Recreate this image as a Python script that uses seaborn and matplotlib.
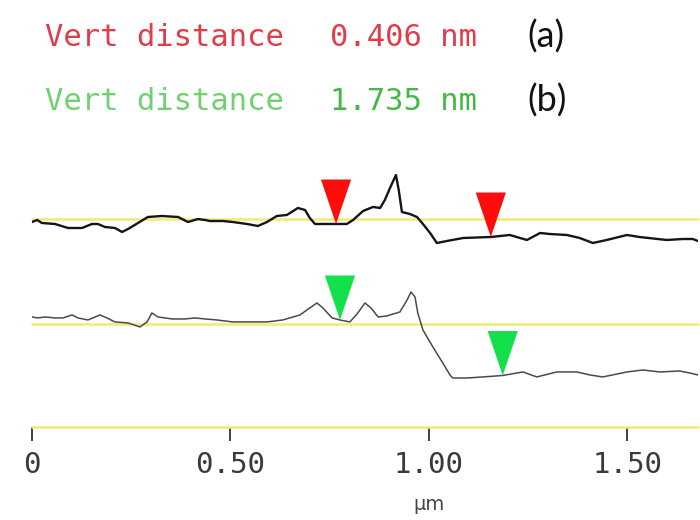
import numpy as np
import pandas as pd
import matplotlib
matplotlib.use("Agg")
import matplotlib.pyplot as plt
from matplotlib.path import Path
from matplotlib.transforms import blended_transform_factory
import seaborn as sns

# Section profile (a): position along the scan line (µm) and height (nm)
pos_a = [0.000, 0.013, 0.025, 0.058, 0.091, 0.126, 0.151, 0.166, 0.184, 0.209,
         0.227, 0.242, 0.267, 0.292, 0.327, 0.368, 0.393, 0.418, 0.436, 0.448,
         0.481, 0.506, 0.542, 0.569, 0.592, 0.617, 0.642, 0.670, 0.688, 0.700,
         0.713, 0.743, 0.766, 0.793, 0.809, 0.834, 0.859, 0.877, 0.889, 0.902,
         0.917, 0.924, 0.932, 0.952, 0.970, 0.985, 1.003, 1.020, 1.045, 1.086,
         1.156, 1.204, 1.247, 1.280, 1.305, 1.348, 1.380, 1.413, 1.448, 1.499,
         1.531, 1.599, 1.640, 1.665, 1.678]
height_a = [-0.094, -0.031, -0.125, -0.156, -0.281, -0.281, -0.156, -0.156, -0.250, -0.281,
            -0.406, -0.313, -0.125, 0.063, 0.094, 0.063, -0.094, 0.000, -0.031, -0.063,
            -0.063, -0.094, -0.156, -0.219, -0.094, 0.094, 0.125, 0.344, 0.281, 0.031,
            -0.156, -0.156, -0.156, -0.156, -0.031, 0.250, 0.375, 0.344, 0.594, 0.969,
            1.375, 0.906, 0.219, 0.156, 0.063, -0.156, -0.438, -0.750, -0.688, -0.594,
            -0.562, -0.500, -0.656, -0.438, -0.469, -0.500, -0.594, -0.750, -0.656, -0.500,
            -0.563, -0.656, -0.625, -0.625, -0.688]

# Section profile (b)
pos_b = [0.000, 0.015, 0.033, 0.058, 0.078, 0.101, 0.116, 0.141, 0.171, 0.189,
         0.209, 0.242, 0.272, 0.290, 0.302, 0.317, 0.353, 0.385, 0.411, 0.436,
         0.466, 0.506, 0.549, 0.592, 0.632, 0.675, 0.700, 0.718, 0.733, 0.756,
         0.776, 0.801, 0.819, 0.839, 0.854, 0.872, 0.894, 0.927, 0.945, 0.955,
         0.965, 0.972, 0.985, 1.010, 1.035, 1.053, 1.060, 1.096, 1.136, 1.186,
         1.237, 1.272, 1.322, 1.373, 1.406, 1.438, 1.499, 1.539, 1.582, 1.632,
         1.657, 1.678]
height_b = [0.219, 0.188, 0.219, 0.188, 0.188, 0.281, 0.188, 0.125, 0.281, 0.188,
            0.063, 0.031, -0.094, 0.063, 0.344, 0.219, 0.156, 0.156, 0.188, 0.156,
            0.125, 0.063, 0.063, 0.063, 0.125, 0.281, 0.500, 0.656, 0.500, 0.188,
            0.125, 0.063, 0.313, 0.656, 0.500, 0.219, 0.250, 0.375, 0.750, 1.000,
            0.844, 0.344, -0.188, -0.719, -1.219, -1.594, -1.688, -1.688, -1.656, -1.610,
            -1.500, -1.656, -1.500, -1.500, -1.594, -1.656, -1.500, -1.438, -1.500, -1.469,
            -1.531, -1.594]

# Cursor pairs for the vertical distance readouts
cursor_a = [0.766, 1.156]
cursor_b = [0.776, 1.186]

tick_values = [0, 0.5, 1.0, 1.5]
tick_labels = ["0", "0.50", "1.00", "1.50"]
unit_label = "µm"
readout_label = "Vert distance"
panel_labels = ["(a)", "(b)"]

# ---- layout / style ----
W, H = 700, 520
X_MAX = 1.678
NM_SPAN = 277 / 32          # vertical span of the axes in nm
BASE_A = 6.5                # baseline of profile (a)
BASE_B = 3.22               # baseline of profile (b)
YELLOW = "#efeb74"
RED = "#ff0d0d"
GREEN = "#14e04a"
RED_TXT = "#e23c48"
GREEN_TXT = "#6fd16f"
GREEN_NUM = "#44b844"
MONO = "DejaVu Sans Mono"

sns.set_theme(style="white")
plt.rcParams["font.family"] = ["DejaVu Sans"]

fig = plt.figure(figsize=(W / 100, H / 100), dpi=100)
ax = fig.add_axes([32 / W, 93 / H, 666 / W, 277 / H])
ax.set_xlim(0, X_MAX)
ax.set_ylim(0, NM_SPAN)

# reference levels
for level in (BASE_A, BASE_B, 0):
    ax.axhline(level, color=YELLOW, lw=1.8, zorder=1, clip_on=False)

df_a = pd.DataFrame({"x": pos_a, "y": np.array(height_a) + BASE_A})
df_b = pd.DataFrame({"x": pos_b, "y": np.array(height_b) + BASE_B})
sns.lineplot(data=df_a, x="x", y="y", ax=ax, color="#151515", lw=1.7,
             estimator=None, sort=False, zorder=3)
sns.lineplot(data=df_b, x="x", y="y", ax=ax, color="#4a4a4a", lw=1.1,
             estimator=None, sort=False, zorder=3)

# downward cursor triangles with their tip on the profile
tri = Path([(-0.34, 1.0), (0.34, 1.0), (0.0, 0.0), (-0.34, 1.0)],
           [Path.MOVETO, Path.LINETO, Path.LINETO, Path.CLOSEPOLY])
ya = np.interp(cursor_a, pos_a, height_a)
yb = np.interp(cursor_b, pos_b, height_b)
sns.scatterplot(x=cursor_a, y=ya + BASE_A, ax=ax, marker=tri, s=4100,
                color=RED, edgecolor="none", linewidth=0, zorder=4, clip_on=False)
sns.scatterplot(x=cursor_b, y=yb + BASE_B, ax=ax, marker=tri, s=4100,
                color=GREEN, edgecolor="none", linewidth=0, zorder=4, clip_on=False)

# axes decoration
sns.despine(ax=ax, left=True, bottom=True)
ax.set_yticks([])
ax.set_ylabel("")
ax.set_xticks(tick_values, tick_labels)
ax.tick_params(axis="x", bottom=True, direction="out", length=10, width=1.3,
               color="#333333", pad=7, labelsize=21, labelcolor="#3a3a3a")
for lbl in ax.get_xticklabels():
    lbl.set_fontfamily(MONO)
ax.set_xlabel("")
trans = blended_transform_factory(ax.transData, fig.transFigure)
ax.text(1.0, 1 - 505 / H, unit_label, transform=trans, ha="center", va="center",
        fontsize=14, color="#444444")

# vertical distance readouts
da = abs(ya[1] - ya[0])
db = abs(yb[1] - yb[0])
row_a, row_b = 1 - 38 / H, 1 - 101 / H
fig.text(45 / W, row_a, readout_label, color=RED_TXT, family=MONO, size=22, va="center")
fig.text(330 / W, row_a, f"{da:.3f} nm", color=RED_TXT, family=MONO, size=22, va="center")
fig.text(45 / W, row_b, readout_label, color=GREEN_TXT, family=MONO, size=22, va="center")
fig.text(330 / W, row_b, f"{db:.3f} nm", color=GREEN_NUM, family=MONO, size=22, va="center")
fig.text(527 / W, 1 - 37 / H, panel_labels[0], color="#111111", family="Lato",
         size=26, va="center")
fig.text(527 / W, 1 - 101 / H, panel_labels[1], color="#111111", family="Lato",
         size=26, va="center")

fig.savefig("out.png", dpi=100, facecolor="white")
